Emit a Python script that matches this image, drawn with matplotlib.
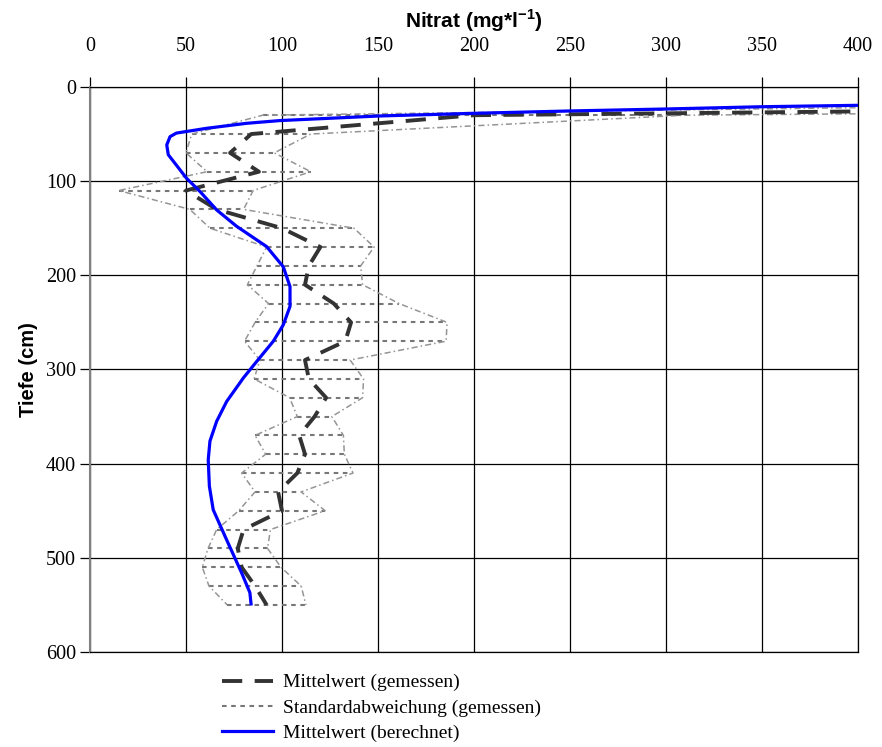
import numpy as np
import matplotlib.pyplot as plt
from matplotlib.lines import Line2D

plt.rcParams['font.family'] = 'Liberation Serif'
plt.rcParams['mathtext.fontset'] = 'custom'
plt.rcParams['mathtext.rm'] = 'Liberation Sans'
plt.rcParams['mathtext.bf'] = 'Liberation Sans:bold'

# gemessen: Tiefe (cm), Mittelwert und Standardabweichung (mg/l)
tiefe = [10, 30, 50, 70, 90, 110, 130, 150, 170, 190, 210, 230, 250, 270,
         290, 310, 330, 350, 370, 390, 410, 430, 450, 470, 490, 510, 530, 550]
mittel = [1200, 200, 84, 73, 88, 50, 66, 100, 120, 114, 112, 127, 136, 133,
          112, 114, 123, 117, 109, 112, 108, 98, 100, 80, 77, 79, 86, 92]
stabw = [335, 110, 31, 23, 27, 35, 14, 37.5, 28, 27, 30, 34, 50, 52.5,
         23.5, 28.5, 19, 9, 23, 20.5, 29, 12, 22.5, 14, 15.5, 20.5, 24, 20.5]

# berechnet
tiefe_ber = [18, 19.5, 21, 23.4, 25.5, 28, 30.8, 35.7, 38.6, 43.9, 49, 52.8,
             61.6, 72, 83, 97, 111, 130.6, 148, 169.5, 191, 212, 233, 252.6,
             270, 291.6, 309, 334, 355, 376, 396, 424, 449, 481, 516, 537, 549]
mittel_ber = [430, 400, 350, 300, 250, 200, 151, 99, 81.6, 60.8, 45, 41.7,
              40, 40.8, 45, 50.3, 57.3, 66, 76.4, 92, 100.7, 104.2, 104.2, 100.7,
              95.5, 86.8, 79.9, 71.2, 66, 62.5, 61.6, 62.2, 64.2, 71.2, 79, 83.3, 83.9]

mittel = np.array(mittel, dtype=float)
stabw = np.array(stabw, dtype=float)
lo = mittel - stabw
hi = mittel + stabw

fig = plt.figure(figsize=(8.82, 7.47), dpi=100)
ax = fig.add_axes([0.102, 0.1272, 0.8707, 0.7564])

# Standardabweichung: Querbalken und Umrisse
ax.hlines(tiefe, lo, hi, colors='#777777', linestyles=(0, (2.2, 2.2)), lw=1.5, zorder=2)
ax.plot(lo, tiefe, color='#959595', lw=1.1, dashes=(4, 2, 1, 2), zorder=2)
ax.plot(hi, tiefe, color='#959595', lw=1.1, dashes=(4, 2, 1, 2), zorder=2)

ax.plot(mittel, tiefe, color='#333333', lw=2.8, dashes=(5.2, 3.2), zorder=3)
ax.plot(mittel_ber, tiefe_ber, color='#0000ff', lw=2.3, zorder=4)

ax.set_xlim(0, 400)
ax.set_ylim(600, 0)
ax.set_xticks(range(0, 401, 50))
ax.set_yticks(range(0, 601, 100))
ax.grid(True, color='black', lw=0.9)
ax.set_axisbelow(True)
for s in ax.spines.values():
    s.set_color('black')
    s.set_linewidth(0.9)
ax.spines['left'].set_color('#808080')
ax.spines['left'].set_linewidth(1.5)

ax.xaxis.tick_top()
ax.xaxis.set_label_position('top')
ax.tick_params(axis='x', direction='out', length=7, pad=15, labelsize=14.5, width=0.9)
ax.tick_params(axis='y', direction='out', length=7, pad=3, labelsize=14.5, width=0.9)

ax.set_xlabel(r'Nitrat (mg*l$^{\mathbf{-1}}$)', family='Liberation Sans',
              fontweight='bold', fontsize=15, labelpad=7)
ax.set_ylabel('Tiefe (cm)', family='Liberation Sans', fontweight='bold',
              fontsize=14.5, labelpad=6)

handles = [
    Line2D([], [], color='#333333', lw=2.8, dashes=(5.2, 3.2)),
    Line2D([], [], color='#777777', lw=1.5, dashes=(2.2, 2.2)),
    Line2D([], [], color='#0000ff', lw=2.3),
]
labels = ['Mittelwert (gemessen)', 'Standardabweichung (gemessen)', 'Mittelwert (berechnet)']
fig.legend(handles, labels, loc='upper left', bbox_to_anchor=(0.2517, 0.098),
           frameon=False, prop={'family': 'Liberation Serif', 'size': 14},
           handlelength=2.6, handletextpad=0.55, labelspacing=0.38,
           borderpad=0, borderaxespad=0)

fig.savefig('out.png', dpi=100)
